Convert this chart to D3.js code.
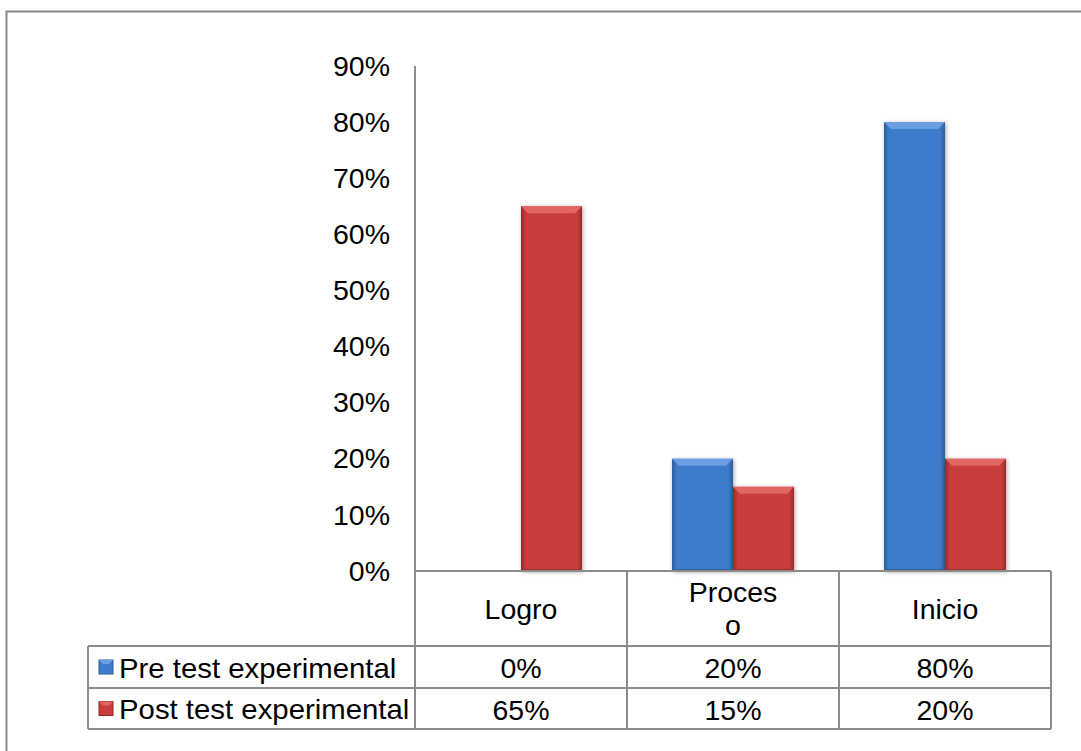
<!DOCTYPE html>
<html>
<head>
<meta charset="utf-8">
<script src="https://cdn.jsdelivr.net/npm/d3@7"></script>
<style>
  html, body { margin: 0; padding: 0; background: #fff; }
  svg { display: block; }
  text { font-family: "Liberation Sans", Arial, sans-serif; fill: #000; }
</style>
</head>
<body>
<svg id="chart" width="1081" height="751"></svg>
<script>
const categories = ["Logro", "Proceso", "Inicio"];
const categoryLabelLines = [["Logro"], ["Proces", "o"], ["Inicio"]];
const seriesNames = ["Pre test experimental", "Post test experimental"];
const preValues = [0.00, 0.20, 0.80];
const postValues = [0.65, 0.15, 0.20];
const valueLabels = [["0%", "20%", "80%"], ["65%", "15%", "20%"]];
const yTicks = [0, 0.1, 0.2, 0.3, 0.4, 0.5, 0.6, 0.7, 0.8, 0.9];

const seriesValues = [preValues, postValues];
const svg = d3.select("#chart");
const fontSize = 28.5;
const gridColor = "#8c8c8c";

const plotLeft = 415, plotRight = 1051, plotTop = 66, plotBottom = 571;
const legendLeft = 88;
const rowBottoms = [646, 688, 729];

// defs: gradients for bevelled bars
const defs = svg.append("defs");
const palette = [
  { base: "#3e7bca", edge: "#2c5d9c", top: "#6aa0e2", bottom: "#2f609f" },
  { base: "#c93e3c", edge: "#952a29", top: "#e26664", bottom: "#9c2e2c" }
];
palette.forEach((p, i) => {
  const g = defs.append("linearGradient").attr("id", "side" + i)
    .attr("x1", "0").attr("x2", "1").attr("y1", "0").attr("y2", "0");
  g.append("stop").attr("offset", "0").attr("stop-color", p.edge);
  g.append("stop").attr("offset", "0.08").attr("stop-color", p.base);
  g.append("stop").attr("offset", "0.92").attr("stop-color", p.base);
  g.append("stop").attr("offset", "1").attr("stop-color", p.edge);
});
const shadow = defs.append("filter").attr("id", "shadow")
  .attr("x", "-20%").attr("y", "-5%").attr("width", "140%").attr("height", "115%");
shadow.append("feGaussianBlur").attr("in", "SourceAlpha").attr("stdDeviation", 2).attr("result", "b");
shadow.append("feOffset").attr("in", "b").attr("dx", 1).attr("dy", 1).attr("result", "o");
shadow.append("feComponentTransfer").attr("in", "o").attr("result", "o2")
  .append("feFuncA").attr("type", "linear").attr("slope", 0.35);
const merge = shadow.append("feMerge");
merge.append("feMergeNode").attr("in", "o2");
merge.append("feMergeNode").attr("in", "SourceGraphic");

// outer chart border (extends beyond the viewport)
svg.append("rect").attr("x", 6.5).attr("y", 11.5).attr("width", 1100).attr("height", 800)
  .attr("fill", "none").attr("stroke", "#8a8a8a").attr("stroke-width", 2);

// scales
const x0 = d3.scaleBand().domain(categories).range([plotLeft, plotRight]).padding(0);
const bw = x0.bandwidth();
const groupW = bw * 122 / 212;
const x1 = d3.scaleBand().domain(seriesNames)
  .range([(bw - groupW) / 2, (bw + groupW) / 2]).padding(0);
const y = d3.scaleLinear().domain([0, 0.9]).range([plotBottom, plotTop]);

// y axis labels
const yAxis = d3.axisLeft(y).tickValues(yTicks).tickFormat(d3.format(".0%")).tickSize(0).tickPadding(25);
const ya = svg.append("g").attr("transform", `translate(${plotLeft},0)`).call(yAxis);
ya.select(".domain").remove();
ya.selectAll("text").attr("font-size", fontSize).attr("font-family", "Liberation Sans, Arial, sans-serif").attr("fill", "#000");

// axis line
svg.append("line").attr("x1", plotLeft).attr("x2", plotLeft).attr("y1", plotTop).attr("y2", plotBottom)
  .attr("stroke", gridColor).attr("stroke-width", 2);

// bars
const bevel = 7;
seriesNames.forEach((s, si) => {
  const p = palette[si];
  const g = svg.append("g").attr("filter", "url(#shadow)");
  categories.forEach((c, ci) => {
    const v = seriesValues[si][ci];
    if (v <= 0) return;
    const bx = x0(c) + x1(s);
    const w = x1.bandwidth();
    const by = y(v);
    const h = y(0) - by;
    const b = Math.min(bevel, h / 2);
    g.append("rect").attr("x", bx).attr("y", by).attr("width", w).attr("height", h)
      .attr("fill", `url(#side${si})`);
    g.append("polygon")
      .attr("points", [[bx, by], [bx + w, by], [bx + w - b, by + b], [bx + b, by + b]].map(q => q.join(",")).join(" "))
      .attr("fill", p.top);
    g.append("rect").attr("x", bx).attr("y", y(0) - 2).attr("width", w).attr("height", 2)
      .attr("fill", p.bottom);
  });
});

// data table grid
const tg = svg.append("g").attr("stroke", gridColor).attr("stroke-width", 2).attr("fill", "none");
tg.append("line").attr("x1", plotLeft).attr("x2", plotRight).attr("y1", plotBottom).attr("y2", plotBottom);
rowBottoms.forEach(yy => {
  tg.append("line").attr("x1", legendLeft).attr("x2", plotRight).attr("y1", yy).attr("y2", yy);
});
const colEdges = categories.map(c => x0(c)).concat([plotRight]);
colEdges.forEach(xx => {
  tg.append("line").attr("x1", xx).attr("x2", xx).attr("y1", plotBottom).attr("y2", rowBottoms[2]);
});
tg.append("line").attr("x1", legendLeft).attr("x2", legendLeft).attr("y1", rowBottoms[0]).attr("y2", rowBottoms[2]);

// category labels
const catRowMid = (plotBottom + rowBottoms[0]) / 2;
const lineH = 33;
categories.forEach((c, ci) => {
  const lines = categoryLabelLines[ci];
  const cx = x0(c) + bw / 2;
  const startY = catRowMid - (lines.length - 1) * lineH / 2;
  lines.forEach((ln, li) => {
    svg.append("text").attr("x", cx).attr("y", startY + li * lineH)
      .attr("text-anchor", "middle").attr("dominant-baseline", "central")
      .attr("font-size", fontSize).text(ln);
  });
});

// value rows with legend keys
seriesNames.forEach((s, si) => {
  const top = rowBottoms[si], bot = rowBottoms[si + 1];
  const mid = (top + bot) / 2;
  const p = palette[si];
  svg.append("rect").attr("x", 99).attr("y", mid - 7).attr("width", 14).attr("height", 14)
    .attr("fill", p.base).attr("stroke", p.edge).attr("stroke-width", 1);
  svg.append("polygon")
    .attr("points", `99,${mid - 7} 113,${mid - 7} 109,${mid - 3} 103,${mid - 3}`)
    .attr("fill", p.top);
  svg.append("text").attr("transform", `translate(119,${mid + 1}) scale(1.03,1)`)
    .attr("dominant-baseline", "central")
    .attr("font-size", fontSize).text(s);
  categories.forEach((c, ci) => {
    svg.append("text").attr("x", x0(c) + bw / 2).attr("y", mid + 1)
      .attr("text-anchor", "middle").attr("dominant-baseline", "central")
      .attr("font-size", fontSize).text(valueLabels[si][ci]);
  });
});
</script>
</body>
</html>
